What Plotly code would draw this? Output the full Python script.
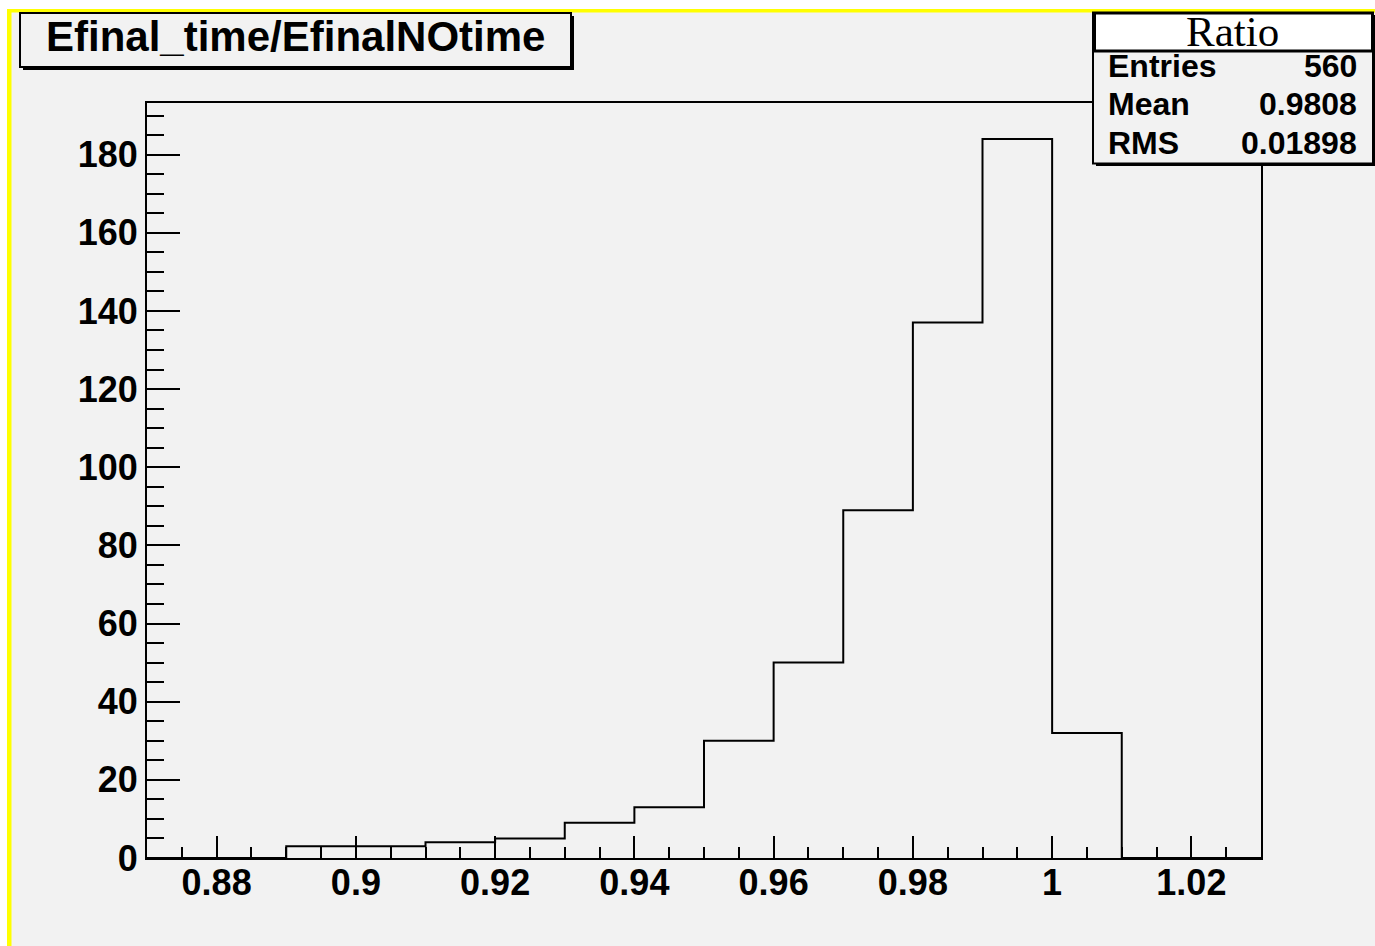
import plotly.graph_objects as go

# ---- data ----
bin_edges = [0.87, 0.88, 0.89, 0.90, 0.91, 0.92, 0.93, 0.94, 0.95, 0.96,
             0.97, 0.98, 0.99, 1.00, 1.01, 1.02, 1.03]
counts = [0, 0, 3, 3, 4, 5, 9, 13, 30, 50, 89, 137, 184, 32, 0, 0]
x_tickvals = [0.88, 0.90, 0.92, 0.94, 0.96, 0.98, 1.00, 1.02]
x_ticktext = ["0.88", "0.9", "0.92", "0.94", "0.96", "0.98", "1", "1.02"]
y_tickvals = [0, 20, 40, 60, 80, 100, 120, 140, 160, 180]
y_ticktext = ["0", "20", "40", "60", "80", "100", "120", "140", "160", "180"]
title_text = "Efinal_time/EfinalNOtime"
stats_name = "Ratio"
stats_labels = ["Entries", "Mean", "RMS"]
stats_values = ["560", "0.9808", "0.01898"]

# ---- geometry (pixels) ----
W, H = 1375, 946
L, R, T, B = 147, 1261, 103, 858
BG = "#f2f2f2"
FONT = "Liberation Sans"


def px(x):
    return (x - L) / (R - L)


def py(y):
    return (B - y) / (B - T)


step_y = counts + [counts[-1]]

fig = go.Figure()
fig.add_trace(go.Scatter(
    x=bin_edges, y=step_y, mode="lines", line_shape="hv",
    line=dict(color="black", width=2), hoverinfo="skip", showlegend=False))

axis_common = dict(
    showline=True, linecolor="black", linewidth=2, mirror=True,
    showgrid=False, zeroline=False, ticks="inside", tickcolor="black",
    tickwidth=2, tickfont=dict(family=FONT, size=36, color="black", weight="bold"),
)

fig.update_xaxes(
    range=[bin_edges[0], bin_edges[-1]], tickmode="array",
    tickvals=x_tickvals, ticktext=x_ticktext, ticklen=22,
    minor=dict(tickmode="linear", tick0=0.87, dtick=0.005, ticklen=11,
               ticks="inside", tickcolor="black", tickwidth=2),
    ticklabelstandoff=-8,
    **axis_common)
fig.update_yaxes(
    range=[0, max(counts) * 1.05], tickmode="array",
    tickvals=y_tickvals, ticktext=y_ticktext, ticklen=33,
    minor=dict(tickmode="linear", tick0=0, dtick=5, ticklen=17,
               ticks="inside", tickcolor="black", tickwidth=2),
    ticklabelstandoff=0,
    **axis_common)

YEL = "#ffff00"
shapes = []
# white outside + yellow pad border
shapes.append(dict(type="rect", xref="paper", yref="paper", x0=px(0), x1=px(W),
                   y0=py(0), y1=py(9), fillcolor="white", line=dict(width=0), layer="above"))
shapes.append(dict(type="rect", xref="paper", yref="paper", x0=px(0), x1=px(7),
                   y0=py(0), y1=py(H), fillcolor="white", line=dict(width=0), layer="above"))
shapes.append(dict(type="rect", xref="paper", yref="paper", x0=px(7), x1=px(W),
                   y0=py(9), y1=py(12.5), fillcolor=YEL, line=dict(width=0), layer="above"))
shapes.append(dict(type="rect", xref="paper", yref="paper", x0=px(7), x1=px(11.5),
                   y0=py(9), y1=py(H), fillcolor=YEL, line=dict(width=0), layer="above"))

# title box with shadow
shapes.append(dict(type="rect", xref="paper", yref="paper", x0=px(23), x1=px(574),
                   y0=py(16), y1=py(70), fillcolor="black", line=dict(width=0), layer="above"))
shapes.append(dict(type="rect", xref="paper", yref="paper", x0=px(20), x1=px(571),
                   y0=py(13), y1=py(67), fillcolor=BG, line=dict(color="black", width=2),
                   layer="above"))

# stats box with shadow
shapes.append(dict(type="rect", xref="paper", yref="paper", x0=px(1096), x1=px(1376),
                   y0=py(15), y1=py(166), fillcolor="black", line=dict(width=0), layer="above"))
shapes.append(dict(type="rect", xref="paper", yref="paper", x0=px(1093), x1=px(1373),
                   y0=py(12.5), y1=py(163.5), fillcolor=BG, line=dict(color="black", width=2),
                   layer="above"))
shapes.append(dict(type="rect", xref="paper", yref="paper", x0=px(1095), x1=px(1372),
                   y0=py(13.5), y1=py(50.5), fillcolor="white", line=dict(color="black", width=2),
                   layer="above"))
shapes.append(dict(type="line", xref="paper", yref="paper", x0=px(1093), x1=px(1373),
                   y0=py(51.5), y1=py(51.5), line=dict(color="black", width=2), layer="above"))
fig.update_layout(shapes=shapes)

annotations = [
    dict(text=title_text, xref="paper", yref="paper", x=px(295.5), y=py(37),
         xanchor="center", yanchor="middle", showarrow=False,
         font=dict(family=FONT, size=42, color="black", weight="bold")),
    dict(text=stats_name, xref="paper", yref="paper", x=px(1232), y=py(32),
         xanchor="center", yanchor="middle", showarrow=False,
         font=dict(family="Liberation Serif", size=43, color="black")),
]
row_y = [66, 104.5, 142.5]
for lab, val, yy in zip(stats_labels, stats_values, row_y):
    annotations.append(dict(text=lab, xref="paper", yref="paper", x=px(1106), y=py(yy),
                            xanchor="left", yanchor="middle", showarrow=False,
                            font=dict(family=FONT, size=32, color="black", weight="bold")))
    annotations.append(dict(text=val, xref="paper", yref="paper", x=px(1359), y=py(yy),
                            xanchor="right", yanchor="middle", showarrow=False,
                            font=dict(family=FONT, size=32, color="black", weight="bold")))
fig.update_layout(annotations=annotations)

fig.update_layout(
    width=W, height=H, autosize=False,
    margin=dict(l=L, r=W - R, t=T, b=H - B, pad=0),
    paper_bgcolor=BG, plot_bgcolor=BG,
    showlegend=False,
)

fig.write_html(
    "out.html", include_plotlyjs=True, config={"displayModeBar": False},
    post_script="document.body.style.margin='0';document.body.style.overflow='hidden';")
